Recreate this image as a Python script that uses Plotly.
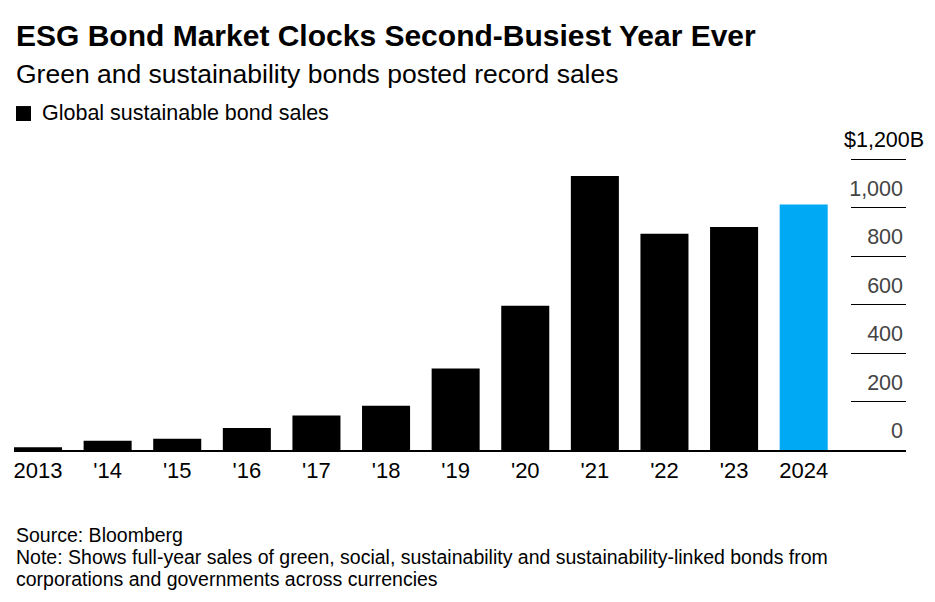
import plotly.graph_objects as go

years = ["2013", "'14", "'15", "'16", "'17", "'18", "'19", "'20", "'21", "'22", "'23", "2024"]
sales = [11, 38, 46, 91, 142, 183, 336, 595, 1131, 892, 920, 1013]
bar_colors = ["#000000"] * 11 + ["#00a9f4"]
y_tickvals = [0, 200, 400, 600, 800, 1000, 1200]
y_ticktext = ["0", "200", "400", "600", "800", "1,000", ""]
top_label = "$1,200B"

# page body has an 8px margin; work in reference pixel coords and shift
OFF = 8
W, H = 935 - OFF, 602 - OFF
PLOT_L, PLOT_R, PLOT_T, PLOT_B = 14, 906, 135, 450.5   # reference pixels
M_L = PLOT_L - OFF
M_R = W - (PLOT_R - OFF)
M_T = PLOT_T - OFF
M_B = H - (PLOT_B - OFF)
PW = W - M_L - M_R
PH = H - M_T - M_B


def px(x):
    return (x - PLOT_L) / PW


def py(y):
    return (PLOT_B - y) / PH


FONT = "Liberation Sans, Arial, Helvetica, sans-serif"

fig = go.Figure()
fig.add_trace(go.Bar(
    x=list(range(len(years))), y=sales,
    marker=dict(color=bar_colors, line=dict(width=0)),
    width=0.69, showlegend=False, hoverinfo="x+y",
))

fig.update_layout(
    width=W, height=H,
    margin=dict(l=M_L, r=M_R, t=M_T, b=M_B, pad=0),
    paper_bgcolor="white", plot_bgcolor="white",
    font=dict(family=FONT, color="#000000", size=22),
    xaxis=dict(
        range=[-0.345, 12.47], tickmode="array",
        tickvals=list(range(len(years))), ticktext=years,
        showgrid=False, zeroline=False,
        showline=True, linecolor="#000000", linewidth=1.5,
        ticks="", tickfont=dict(size=22), fixedrange=True,
    ),
    yaxis=dict(
        range=[0, 1300], side="right",
        tickmode="array", tickvals=y_tickvals, ticktext=y_ticktext,
        ticks="inside", ticklen=55, tickwidth=1, tickcolor="#000000",
        ticklabelposition="inside top", ticklabelshift=-4,
        showgrid=False, zeroline=False, showline=False,
        tickfont=dict(size=21.5), fixedrange=True,
    ),
)

fig.add_annotation(
    text=top_label, xref="paper", yref="y", x=px(926), y=y_tickvals[-1],
    xanchor="right", yanchor="bottom", yshift=5, showarrow=False,
    font=dict(size=21.5, family=FONT, color="#000000"),
)

annos = [
    dict(text="<b>ESG Bond Market Clocks Second-Busiest Year Ever</b>", x=14, y=35, size=30),
    dict(text="Green and sustainability bonds posted record sales", x=14, y=73.5, size=26.5),
    dict(text="Global sustainable bond sales", x=40, y=112.5, size=21.5),
    dict(text="Source: Bloomberg", x=14, y=536, size=19.5),
    dict(text="Note: Shows full-year sales of green, social, sustainability and sustainability-linked bonds from",
         x=14, y=558, size=19.5),
    dict(text="corporations and governments across currencies", x=14, y=580, size=19.5),
]
for a in annos:
    fig.add_annotation(
        text=a["text"], xref="paper", yref="paper",
        x=px(a["x"]), y=py(a["y"]),
        xanchor="left", yanchor="middle", showarrow=False,
        font=dict(size=a["size"], family=FONT, color="#000000"),
    )

fig.add_shape(
    type="rect", xref="paper", yref="paper",
    x0=px(16), x1=px(31), y0=py(121), y1=py(106),
    fillcolor="#000000", line=dict(width=0),
)

fig.write_html("out.html")
